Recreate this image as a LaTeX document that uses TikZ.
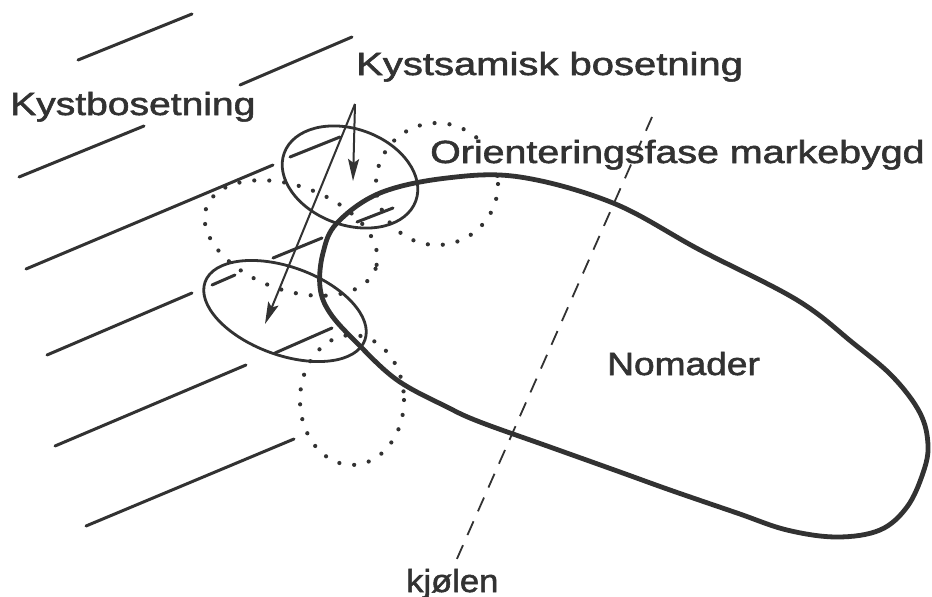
\documentclass[tikz,border=0pt]{standalone}
\usepackage{fontspec}
\setmainfont{Liberation Sans}
\newfontfamily\labfont{Liberation Sans}[FakeBold=1.6]
\usetikzlibrary{arrows.meta}
\definecolor{ink}{RGB}{50,50,50}
\begin{document}
\begin{tikzpicture}[x=1pt,y=-1pt,
  hatch/.style={ink,line width=3pt,line cap=round},
  ring/.style={ink,line width=2.8pt},
  dotring/.style={ink,line width=4.2pt,line cap=round,dash pattern=on 0pt off 15pt},
  outline/.style={ink,line width=4.8pt,line join=round},
  ridge/.style={ink,line width=1.8pt,dash pattern=on 15pt off 11pt},
  pointer/.style={ink,line width=2pt,-{Stealth[length=22pt,width=11pt,inset=4pt]}},
  lab/.style={inner sep=0pt,anchor=base west,text=ink,font=\labfont\fontsize{32}{36}\selectfont}]
\useasboundingbox[fill=white] (0,0) rectangle (932,597);

% coast hatching
\draw[hatch] (78,60) -- (192,14);
\draw[hatch] (240,85) -- (352,37);
\draw[hatch] (19,177) -- (144,126);
\draw[hatch] (26,269) -- (273,165);
\draw[hatch] (290,157) -- (340,137);
\draw[hatch] (47,355) -- (192,293);
\draw[hatch] (212,285) -- (235,275);
\draw[hatch] (273,258) -- (322,238);
\draw[hatch] (357,222) -- (393,208);
\draw[hatch] (55,446) -- (246,365);
\draw[hatch] (275,353) -- (332,328);
\draw[hatch] (86,526) -- (294,439);

% dotted settlement areas
\draw[dotring,rotate around={-20:(291,238)}] (291,238) ellipse [x radius=90, y radius=52];
\draw[dotring] (437,184) circle [radius=61];
\draw[dotring] (352,400) ellipse [x radius=52, y radius=65];

% coastal sami settlements
\draw[ring,rotate around={-20:(350,177)}] (350,177) ellipse [x radius=70, y radius=48];
\draw[ring,rotate around={-20:(285,311)}] (285,311) ellipse [x radius=85, y radius=44];

% nomad area
\draw[outline] plot[smooth cycle, tension=0.6] coordinates {(337,223) (380,193) (447,178) (520,177) (613,203) (700,250) (797,300) (853,343) (893,377) (920,413) (928,445) (923,473) (907,507) (880,530) (837,537) (787,530) (737,513) (670,490) (620,472) (550,447) (480,422) (447,407) (397,380) (357,343) (330,313) (320,287) (323,253)};

% labels
\node[lab] (kb) at (10,115) {\scalebox{1.22}[1]{Kystbosetning}};
\node[lab] (ks) at (356,75) {\scalebox{1.25}[1]{Kystsamisk bosetning}};
\node[lab,fill=white] (of) at (430,163) {\scalebox{1.23}[1]{Orienteringsfase markebygd}};
\node[lab] (nm) at (607,375) {\scalebox{1.16}[1]{Nomader}};
\node[lab] (kj) at (406,592) {\scalebox{1.08}[1]{kjølen}};

% arrows
\coordinate (apex) at (355,104);
\coordinate (tipA) at (353,181);
\coordinate (tipB) at (265,324);
\draw[pointer] (apex) -- (tipA);
\draw[pointer] (apex) -- (tipB);

% ridge line
\coordinate (ridgetop) at (652,117);
\coordinate (ridgeend) at (456,561);
\draw[ridge] (ridgetop) -- (ridgeend);
\end{tikzpicture}
\end{document}
